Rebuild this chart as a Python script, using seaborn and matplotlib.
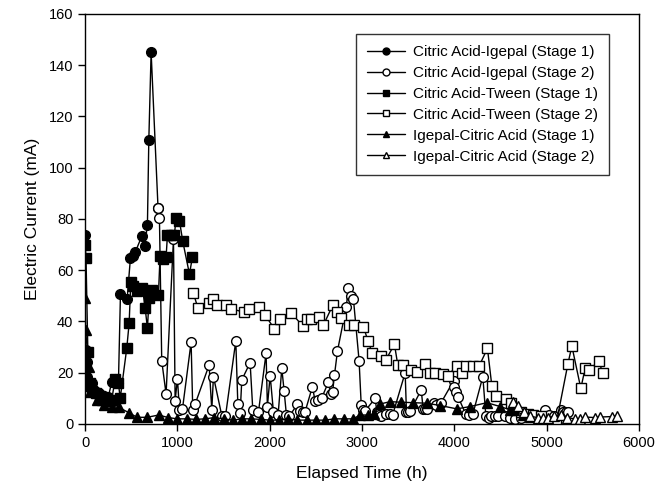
import numpy as np
import pandas as pd
import matplotlib
matplotlib.use("Agg")
import matplotlib.pyplot as plt
import seaborn as sns

# Citric Acid-Igepal (Stage 1)
ci1_t = [0, 5, 18, 25, 45, 76, 110, 150, 200, 250, 289, 325, 361, 383, 455, 491, 516,
         545, 617, 646, 675, 690, 715, 790]
ci1_i = [73.8, 28.9, 24.3, 18.5, 14.5, 15.9, 13, 12, 11, 10.5, 16.3, 17.5, 16, 50.7, 48.7, 64.7, 65.6,
         67.2, 73.5, 69.6, 77.7, 110.6, 145, 84.2]

# Citric Acid-Igepal (Stage 2)
ci2_t = [787, 805, 830, 877, 957, 975, 1000, 1022, 1054, 1148, 1166, 1191, 1343, 1372, 1390,
         1480, 1520, 1632, 1654, 1679, 1697, 1787, 1816, 1877, 1960, 1974, 2004, 2040, 2090,
         2130, 2155, 2180, 2210, 2300, 2330, 2355, 2380, 2462, 2490, 2520, 2560, 2635, 2660,
         2680, 2700, 2733, 2827, 2852, 2877, 2906, 2967, 2990, 3005, 3030, 3141, 3160, 3180,
         3200, 3260, 3300, 3330, 3466, 3480, 3500, 3520, 3640, 3660, 3680, 3700, 3780, 3800,
         3850, 3990, 4000, 4020, 4040, 4120, 4160, 4200, 4307, 4340, 4370, 4400, 4440, 4470,
         4550, 4600, 4650, 4720, 4800, 4900, 4982, 5020, 5080, 5155, 5180, 5205, 5230]
ci2_i = [84.2, 80.3, 24.6, 11.7, 72.1, 9.1, 17.6, 5.5, 5.7, 31.9, 5.5, 7.7, 23, 5.5, 18.5,
         3.3, 3, 32.4, 7.7, 4.2, 17.2, 23.9, 5.5, 4.6, 27.6, 6.8, 18.9, 4.5, 3.5,
         21.7, 13, 3.5, 3, 7.7, 5, 4.5, 4.5, 14.6, 9, 9.5, 10, 16.3, 11.5,
         12.5, 19, 28.5, 45.5, 53, 50, 48.6, 24.7, 7.4, 5.5, 5, 10, 4.5, 3.5,
         3, 4, 4, 3.5, 20, 4.5, 4.5, 5, 13.3, 6, 6, 6, 8, 7.5,
         8, 16.8, 14.5, 12.5, 10.5, 4, 3.5, 4, 18.5, 3, 2.5, 3, 3, 3,
         3, 2.5, 2, 2.5, 3, 2.5, 5.5, 3.5, 3, 5.5, 4.5, 4.5, 4.5]

# Citric Acid-Tween (Stage 1)
ct1_t = [0, 10, 30, 50, 80, 120, 160, 184, 220, 260, 289, 325, 361, 380, 451, 477, 495, 523,
         560, 621, 650, 675, 693, 722, 794, 812, 841, 877, 892, 931, 967, 986, 1022, 1058,
         1130, 1162]
ct1_i = [70, 64.7, 28.2, 16, 13, 12, 11, 9.4, 10, 9, 9.5, 17.6, 15.9, 10, 29.5, 39.3, 55.5, 53.9,
         51.9, 53, 45.4, 37.3, 49, 52.3, 50.3, 65.6, 64.4, 65, 73.8, 73.8, 73.8, 80.5, 79.2, 71.2,
         58.5, 65]

# Citric Acid-Tween (Stage 2)
ct2_t = [1173, 1220, 1343, 1390, 1433, 1527, 1581, 1726, 1776, 1888, 1950, 2051, 2112, 2231,
         2357, 2401, 2448, 2538, 2581, 2683, 2726, 2773, 2863, 2917, 3014, 3062, 3108, 3206,
         3257, 3350, 3386, 3447, 3531, 3592, 3682, 3736, 3790, 3881, 3927, 4025, 4079, 4122,
         4198, 4267, 4357, 4404, 4451, 4556, 4613, 4722, 4800, 4855, 4940, 5030, 5101, 5228,
         5271, 5368, 5415, 5462, 5560, 5606]
ct2_i = [51, 45.4, 47.3, 48.6, 46.4, 46.4, 44.9, 43.6, 44.9, 45.8, 42.5, 37, 41, 43.4,
         38.2, 40.9, 40.9, 41.6, 38.6, 46.4, 43.6, 41.2, 38.6, 38.6, 38, 32.5, 27.8, 26.7,
         25, 31.1, 23, 23, 21.1, 20.2, 23.3, 20, 20, 19.5, 18.7, 22.8, 20, 22.6,
         22.6, 22.6, 29.5, 15, 11, 9.8, 8.1, 4.8, 4, 3.5, 3, 0, 0, 23.4,
         30.4, 13.9, 21.7, 21, 24.6, 20]

# Igepal-Citric Acid (Stage 1)
ic1_t = [0, 5, 40, 57, 130, 202, 292, 365, 473, 563, 671, 798, 900, 1000, 1100, 1200, 1300,
         1400, 1500, 1600, 1700, 1800, 1900, 2000, 2100, 2200, 2300, 2400, 2500, 2600, 2700,
         2800, 2900, 2980, 3060, 3130, 3195, 3303, 3420, 3556, 3700, 3845, 4025, 4170, 4350,
         4495, 4603, 4640, 4747, 4820]
ic1_i = [49, 36.7, 22.4, 12.6, 9.4, 7.4, 6.8, 6.5, 4.4, 2.6, 2.6, 3.5, 2.5, 2, 2, 1.8, 2,
         2.5, 2, 1.5, 2, 2, 1.8, 1.5, 1.5, 2, 1.5, 1.5, 1.5, 1.5, 2,
         2, 2, 3.5, 3.5, 4, 7.8, 8.7, 8.5, 8.3, 8.1, 7.2, 5.9, 6.8, 8.3,
         6.8, 5.5, 5.5, 3.5, 2.7]

# Igepal-Citric Acid (Stage 2)
ic2_t = [4632, 4690, 4750, 4820, 4900, 4960, 5010, 5080, 5150, 5220, 5300, 5360, 5415,
         5523, 5575, 5704, 5758]
ic2_i = [8.7, 7, 4.5, 3, 2.5, 2.5, 2.5, 3, 3.5, 2.5, 2, 1.8, 2.7, 2.5, 2.7, 2.9, 3.2]

series = [
    (ci1_t, ci1_i, "Citric Acid-Igepal (Stage 1)", "o", "black"),
    (ci2_t, ci2_i, "Citric Acid-Igepal (Stage 2)", "o", "white"),
    (ct1_t, ct1_i, "Citric Acid-Tween (Stage 1)", "s", "black"),
    (ct2_t, ct2_i, "Citric Acid-Tween (Stage 2)", "s", "white"),
    (ic1_t, ic1_i, "Igepal-Citric Acid (Stage 1)", "^", "black"),
    (ic2_t, ic2_i, "Igepal-Citric Acid (Stage 2)", "^", "white"),
]

sns.set_style("ticks")
plt.rcParams["font.family"] = ["Liberation Sans", "DejaVu Sans"]
plt.rcParams["text.color"] = "black"
plt.rcParams["axes.labelcolor"] = "black"
plt.rcParams["xtick.color"] = "black"
plt.rcParams["ytick.color"] = "black"

fig, ax = plt.subplots(figsize=(6.7, 4.93), dpi=100)
fig.subplots_adjust(left=0.127, right=0.954, top=0.972, bottom=0.14)

for t, i, name, mk, fc in series:
    df = pd.DataFrame({"t": t, "i": i})
    sns.lineplot(data=df, x="t", y="i", ax=ax, sort=False, estimator=None,
                 color="black", linewidth=1, marker=mk, markersize=6.5 if mk == "s" else 7,
                 markerfacecolor=fc, markeredgecolor="black", markeredgewidth=1,
                 label=name)

ax.set_xlim(0, 6000)
ax.set_ylim(0, 160)
ax.set_xticks(range(0, 6001, 1000))
ax.set_yticks(range(0, 161, 20))
ax.tick_params(axis="both", labelsize=10.5, direction="out", length=5, width=1,
               color="black", labelcolor="black")
for s in ax.spines.values():
    s.set_color("black")
    s.set_linewidth(1)
ax.set_xlabel("Elapsed Time (h)", fontsize=12.5, labelpad=12)
ax.set_ylabel("Electric Current (mA)", fontsize=12.5, labelpad=6)

leg = ax.legend(loc="upper right", bbox_to_anchor=(0.96, 0.97), fontsize=11,
                frameon=True, fancybox=False, edgecolor="black", handlelength=2.5,
                labelspacing=0.45, borderpad=0.75, handletextpad=0.5)
for h in leg.legend_handles:
    h.set_markersize(5)
leg.get_frame().set_linewidth(1)

fig.savefig("out.png", dpi=100)
